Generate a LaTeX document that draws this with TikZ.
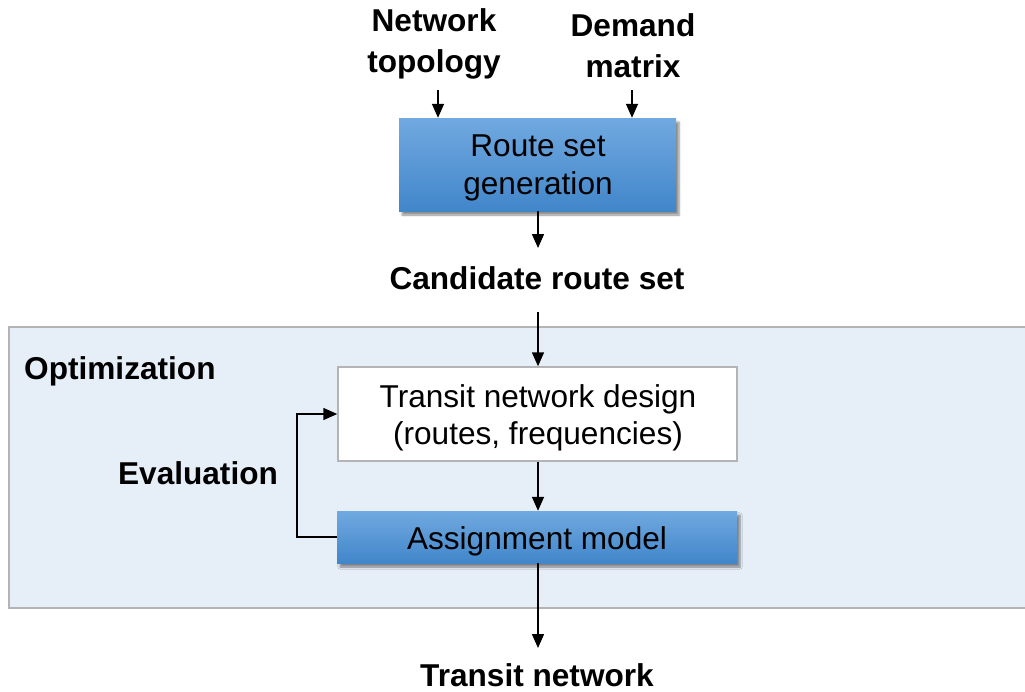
\documentclass[tikz,border=0pt]{standalone}
\usepackage{fontspec}
\setmainfont{Liberation Sans}
\usetikzlibrary{arrows.meta,shadows.blur}
\definecolor{paneBg}{HTML}{E6EEF8}
\definecolor{paneBd}{HTML}{B4B4B4}
\definecolor{blueTop}{HTML}{71A9E0}
\definecolor{blueBot}{HTML}{4186CA}
\begin{document}
\begin{tikzpicture}[x=1pt,y=-1pt,
  font=\fontsize{31.6}{37.5}\selectfont,
  lbl/.style={font=\fontsize{31.6}{41}\selectfont\bfseries, align=center, inner sep=0pt},
  txt/.style={align=center, inner sep=0pt},
  bluebox/.style={draw=none, top color=blueTop, bottom color=blueBot, inner sep=0pt,
    blur shadow={shadow xshift=3pt, shadow yshift=-4pt, shadow blur steps=6, shadow opacity=45}},
  whitebox/.style={draw=paneBd, line width=1.5pt, fill=white, inner sep=0pt},
  arr/.style={line width=1.5pt, -{Triangle[length=14pt,width=12pt]}}
]
\useasboundingbox (0,0) rectangle (1025,691);
% panel
\fill[paneBg] (9,327) rectangle (1030,608);
\draw[paneBd, line width=2pt] (1030,327) -- (9,327) -- (9,608) -- (1030,608);

\node[lbl] (topo) at (434,44) {Network\\topology};
\node[lbl] (dem) at (633,46) {Demand\\matrix};
\node[bluebox, minimum width=277pt, minimum height=93pt] (rsg) at (537.5,164.5) {};
\node[txt] (rsgt) at (538,168) {Route set\\generation};
\node[lbl] (cand) at (537,278) {Candidate route set};
\node[lbl, anchor=west] (opt) at (24,371) {Optimization};
\node[whitebox, minimum width=399pt, minimum height=94pt] (tnd) at (537.5,414) {};
\node[txt] (tndt) at (538,418) {Transit network design\\(routes, frequencies)};
\node[bluebox, minimum width=400pt, minimum height=52pt] (am) at (537,537) {};
\node[txt] (amt) at (537,541) {Assignment model};
\node[lbl] (eval) at (198,473) {Evaluation};
\node[lbl] (tn) at (537,675) {Transit network};

\coordinate (t1) at (438,90);
\coordinate (d1) at (632,90);
\draw[arr] (t1) -- (t1 |- rsg.north);
\draw[arr] (d1) -- (d1 |- rsg.north);
\coordinate (c1) at (538,248);
\draw[arr] (rsg.south -| c1) -- (c1);
\coordinate (c2) at (538,312);
\draw[arr] (c2) -- (c2 |- tnd.north);
\draw[arr] (tnd.south -| c2) -- (c2 |- am.north);
\coordinate (c3) at (538,648);
\draw[arr] (am.south -| c3) -- (c3);
\coordinate (fb) at (297,414);
\draw[arr] (am.west) -- (fb |- am.west) -- (fb) -- (tnd.west);
\end{tikzpicture}
\end{document}
